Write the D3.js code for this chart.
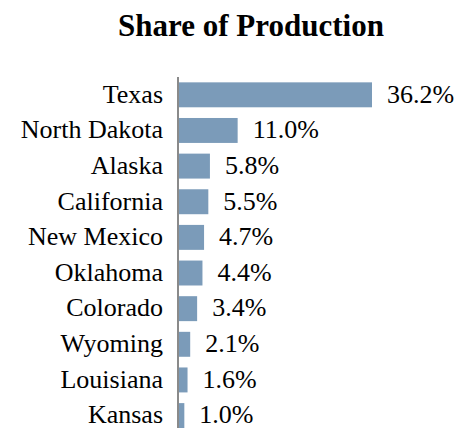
<!DOCTYPE html>
<html>
<head>
<meta charset="utf-8">
<script src="https://cdn.jsdelivr.net/npm/d3@7"></script>
<style>
  body { margin: 0; background: #fff; }
  svg { display: block; }
</style>
</head>
<body>
<svg id="chart"></svg>
<script>
// data
var states = ["Texas", "North Dakota", "Alaska", "California", "New Mexico",
              "Oklahoma", "Colorado", "Wyoming", "Louisiana", "Kansas"];
var shares = [36.2, 11.0, 5.8, 5.5, 4.7, 4.4, 3.4, 2.1, 1.6, 1.0];

var W = 467, H = 428;
var margin = {top: 77, left: 178};
var font = "'Liberation Serif', 'Times New Roman', serif";

var svg = d3.select("#chart")
    .attr("width", W)
    .attr("height", H);

// title
svg.append("text")
    .attr("x", 251)
    .attr("y", 36)
    .attr("text-anchor", "middle")
    .attr("font-family", font)
    .attr("font-weight", "bold")
    .attr("font-size", "31px")
    .attr("fill", "#000")
    .text("Share of Production");

var x = d3.scaleLinear()
    .domain([0, 36.2])
    .range([margin.left + 1, 372]);

var y = d3.scaleBand()
    .domain(states)
    .range([margin.top, margin.top + 35.64 * states.length])
    .paddingInner(0.3)
    .paddingOuter(0.15);

// bars
svg.selectAll("rect.bar")
    .data(states)
    .enter()
    .append("rect")
    .attr("class", "bar")
    .attr("x", x(0))
    .attr("y", function(d) { return y(d); })
    .attr("width", function(d, i) { return x(shares[i]) - x(0); })
    .attr("height", y.bandwidth())
    .attr("fill", "#7b9bb9");

// category axis (labels + line)
var yAxis = svg.append("g")
    .attr("transform", "translate(" + margin.left + ",0)")
    .call(d3.axisLeft(y).tickSize(0).tickPadding(15));

yAxis.select(".domain")
    .attr("stroke", "#8a8a8a")
    .attr("stroke-width", 2)
    .attr("d", "M0," + margin.top + "V" + H);

yAxis.selectAll("text")
    .attr("font-family", font)
    .attr("font-size", "26px")
    .attr("fill", "#000")
    .attr("dy", "0.3em");

// value labels
svg.selectAll("text.num")
    .data(states)
    .enter()
    .append("text")
    .attr("class", "num")
    .attr("x", function(d, i) { return x(shares[i]) + 15; })
    .attr("y", function(d) { return y(d) + y.bandwidth() / 2; })
    .attr("dy", "0.3em")
    .attr("font-family", font)
    .attr("font-size", "26px")
    .attr("fill", "#000")
    .text(function(d, i) { return shares[i].toFixed(1) + "%"; });
</script>
</body>
</html>
